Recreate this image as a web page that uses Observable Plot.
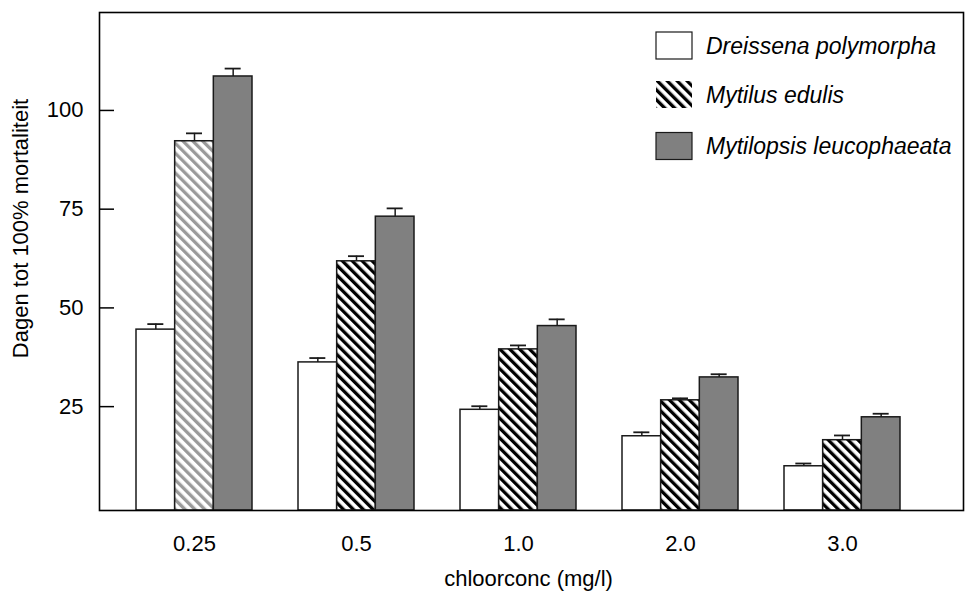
<!DOCTYPE html>
<html>
<head>
<meta charset="utf-8">
<script src="https://cdn.jsdelivr.net/npm/d3@7"></script>
<script src="https://cdn.jsdelivr.net/npm/@observablehq/plot@0.6"></script>
<style>
  html, body { margin: 0; padding: 0; background: #fff; }
  #chart svg { display: block; }
</style>
</head>
<body>
<div id="chart"></div>
<script>
// Chlorine concentrations (mg/l) on the x axis
const concentrations = ["0.25", "0.5", "1.0", "2.0", "3.0"];

// Species, in bar order within each group
const species = ["Dreissena polymorpha", "Mytilus edulis", "Mytilopsis leucophaeata"];

// Days until 100% mortality, per species and concentration
const dreissena = [44.5, 36.2, 24.2, 17.5, 9.9];
const mytilus = [92.2, 61.8, 39.5, 26.6, 16.5];
const mytilopsis = [108.6, 73.1, 45.4, 32.4, 22.3];

// Standard errors (upper whisker only)
const dreissenaErr = [1.4, 1.1, 0.9, 1.0, 0.7];
const mytilusErr = [2.0, 1.3, 1.0, 0.5, 1.2];
const mytilopsisErr = [2.0, 2.1, 1.7, 0.8, 0.9];

// Y axis ticks
const yTicks = [25, 50, 75, 100];

// ---- layout ----
const W = 966, H = 601;
const mLeft = 99, mRight = 3, mTop = 12, mBottom = 91;
const yFloor = -1.3, yCeil = 124.8;
const bandStep = 162.7, bandWidth = 116;
const firstCenter = 192.8;
const subWidth = bandWidth / 3;
const capHalf = 8;
const font = "'Liberation Sans', Arial, Helvetica, sans-serif";
const labelSize = 22;

const values = [dreissena, mytilus, mytilopsis];
const errors = [dreissenaErr, mytilusErr, mytilopsisErr];
const fills = ["white", "url(#hatch)", "#808080"];

const table = [];
species.forEach((s, i) => {
  concentrations.forEach((c, j) => {
    table.push({species: s, si: i, conc: c, value: values[i][j], err: errors[i][j]});
  });
});

const barMarks = [];
const errMarks = [];
species.forEach((s, i) => {
  const rows = table.filter(d => d.si === i);
  barMarks.push(Plot.barY(rows, {
    x: "conc",
    y1: yFloor,
    y2: "value",
    fill: i === 1 ? (d => d.conc === "0.25" ? "url(#hatch-light)" : "url(#hatch)") : fills[i],
    stroke: "#1a1a1a",
    strokeWidth: 1.5,
    insetLeft: i * subWidth,
    insetRight: (2 - i) * subWidth
  }));
  const center = subWidth * (i + 0.5);
  errMarks.push(Plot.ruleX(rows, {
    x: "conc",
    y1: "value",
    y2: d => d.value + d.err,
    dx: center - bandWidth / 2,
    stroke: "#1a1a1a",
    strokeWidth: 1.5
  }));
  errMarks.push(Plot.tickY(rows, {
    x: "conc",
    y: d => d.value + d.err,
    insetLeft: center - capHalf,
    insetRight: bandWidth - center - capHalf,
    stroke: "#1a1a1a",
    strokeWidth: 1.8
  }));
});

const innerWidth = W - mLeft - mRight;

const chart = Plot.plot({
  width: W,
  height: H,
  marginLeft: mLeft,
  marginRight: mRight,
  marginTop: mTop,
  marginBottom: mBottom,
  style: {fontFamily: font, fontSize: labelSize + "px", color: "black", background: "white"},
  x: {
    domain: concentrations,
    range: [firstCenter - bandStep / 2, firstCenter + bandStep * (concentrations.length - 0.5)],
    paddingInner: 1 - bandWidth / bandStep,
    paddingOuter: (1 - bandWidth / bandStep) / 2,
    align: 0.5
  },
  y: {domain: [yFloor, yCeil]},
  marks: [
    ...barMarks,
    ...errMarks,
    Plot.tickY(yTicks, {y: d => d, insetRight: innerWidth - 15, stroke: "black", strokeWidth: 1.5}),
    Plot.axisY(yTicks, {tickSize: 0, tickPadding: 16, label: null, fontSize: labelSize}),
    Plot.axisX({tickSize: 0, tickPadding: 25, label: null, fontSize: labelSize}),
    Plot.frame({stroke: "black", strokeWidth: 1.6}),
    Plot.text(["chloorconc (mg/l)"], {text: d => d, frameAnchor: "bottom", textAnchor: "middle", dy: 75, dx: -3, fontSize: labelSize}),
    Plot.text(["Dagen tot 100% mortaliteit"], {text: d => d, frameAnchor: "left", textAnchor: "middle", rotate: -90, dx: -79, dy: -33, fontSize: labelSize})
  ]
});

document.getElementById("chart").appendChild(chart);

// hatch patterns
const svg = d3.select(chart);
const defs = svg.insert("defs", ":first-child");
function hatch(id, color) {
  const p = defs.append("pattern")
    .attr("id", id)
    .attr("patternUnits", "userSpaceOnUse")
    .attr("width", 7)
    .attr("height", 7)
    .attr("patternTransform", "rotate(-45)");
  p.append("rect").attr("width", 7).attr("height", 7).attr("fill", "white");
  p.append("rect").attr("width", 3.3).attr("height", 7).attr("fill", color);
}
hatch("hatch", "black");
hatch("hatch-light", "#9a9a9a");

// legend inside the frame, top right
const legendRows = [
  {name: species[0], fill: "white", stroke: "#1a1a1a", cy: 45.5},
  {name: species[1], fill: "url(#hatch)", stroke: "none", cy: 94.5},
  {name: species[2], fill: "#808080", stroke: "#1a1a1a", cy: 146}
];
const lg = svg.append("g")
  .attr("font-family", font)
  .attr("font-size", 23)
  .attr("font-style", "italic")
  .attr("text-anchor", "start");
legendRows.forEach(r => {
  lg.append("rect")
    .attr("x", 656).attr("y", r.cy - 13.5)
    .attr("width", 36).attr("height", 27)
    .attr("fill", r.fill).attr("stroke", r.stroke).attr("stroke-width", 1.2);
  lg.append("text")
    .attr("x", 706).attr("y", r.cy)
    .attr("dy", "0.36em")
    .attr("fill", "black")
    .attr("text-anchor", "start")
    .text(r.name);
});
</script>
</body>
</html>
